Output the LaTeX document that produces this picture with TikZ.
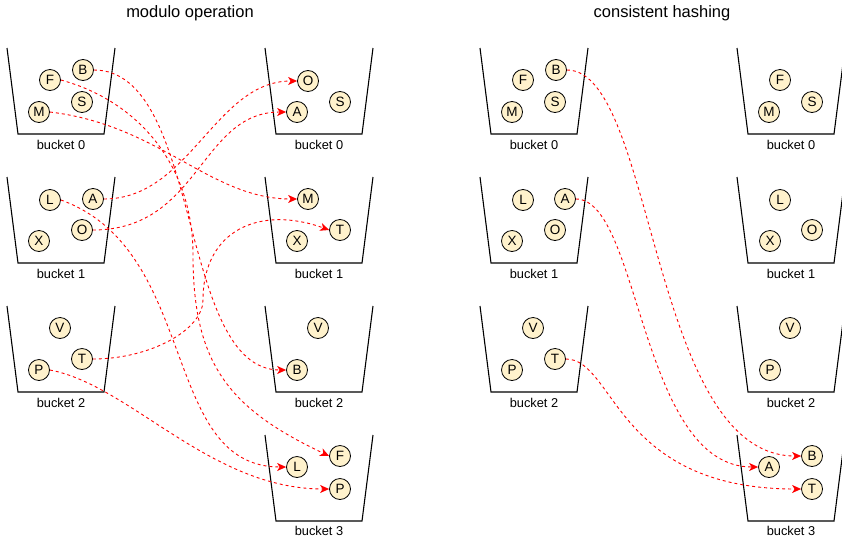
\documentclass[tikz,border=0pt]{standalone}
\usepackage{fontspec}
\setmainfont{Liberation Sans}
\usetikzlibrary{arrows.meta}
\definecolor{ballfill}{HTML}{FFF2CC}
\definecolor{edgered}{HTML}{FF0000}
\begin{document}
\begin{tikzpicture}[x=1pt,y=-1pt,
  ball/.style={circle,draw=black,fill=ballfill,line width=0.8pt,minimum size=21pt,inner sep=0pt,font=\fontsize{13.5}{15}\selectfont},
  blabel/.style={font=\fontsize{12.8}{14}\selectfont,inner sep=0pt},
  ttl/.style={font=\fontsize{16.5}{19}\selectfont,inner sep=0pt},
  move/.style={draw=edgered,line width=0.9pt,dash pattern=on 3pt off 3pt,-{Stealth[length=9pt,width=8pt,inset=2.5pt]}},
  bucket/.pic={\draw[line width=1.1pt] (0,0) -- (11,86) -- (97,86) -- (108,0);}
]
\clip (0,0) rectangle (842,541);
\useasboundingbox (0,0) rectangle (842,541);

% titles
\node[ttl] (t1) at (190,13) {modulo operation};
\node[ttl] (t2) at (662,13) {consistent hashing};

% buckets
\foreach \x in {7, 480}{
  \foreach \y in {48, 177, 306}{
    \pic at (\x,\y) {bucket};
  }
}
\foreach \x in {265, 737}{
  \foreach \y in {48, 177, 306, 435}{
    \pic at (\x,\y) {bucket};
  }
}
% bucket labels
\node[blabel] (ml0) at (61,145) {bucket 0};
\node[blabel] (ml1) at (61,274) {bucket 1};
\node[blabel] (ml2) at (61,403) {bucket 2};
\node[blabel] (mr0) at (319,145) {bucket 0};
\node[blabel] (mr1) at (319,274) {bucket 1};
\node[blabel] (mr2) at (319,403) {bucket 2};
\node[blabel] (mr3) at (319,531) {bucket 3};
\node[blabel] (cl0) at (534,145) {bucket 0};
\node[blabel] (cl1) at (534,274) {bucket 1};
\node[blabel] (cl2) at (534,403) {bucket 2};
\node[blabel] (cr0) at (791,145) {bucket 0};
\node[blabel] (cr1) at (791,274) {bucket 1};
\node[blabel] (cr2) at (791,403) {bucket 2};
\node[blabel] (cr3) at (791,531) {bucket 3};

% modulo left
\node[ball] (mlF) at (50,80) {F};
\node[ball] (mlB) at (83,70) {B};
\node[ball] (mlS) at (82,102) {S};
\node[ball] (mlM) at (39,112) {M};
\node[ball] (mlL) at (50,200) {L};
\node[ball] (mlA) at (93,199) {A};
\node[ball] (mlO) at (82,230) {O};
\node[ball] (mlX) at (39,241) {X};
\node[ball] (mlV) at (60,328) {V};
\node[ball] (mlT) at (82,359) {T};
\node[ball] (mlP) at (39,370) {P};
% modulo right
\node[ball] (mrO) at (308,81) {O};
\node[ball] (mrA) at (297,112) {A};
\node[ball] (mrS) at (340,102) {S};
\node[ball] (mrM) at (308,199) {M};
\node[ball] (mrT) at (340,230) {T};
\node[ball] (mrX) at (297,241) {X};
\node[ball] (mrV) at (318,328) {V};
\node[ball] (mrB) at (297,370) {B};
\node[ball] (mrF) at (340,456) {F};
\node[ball] (mrL) at (297,467) {L};
\node[ball] (mrP) at (340,489) {P};
% consistent left
\node[ball] (clF) at (523,80) {F};
\node[ball] (clB) at (556,70) {B};
\node[ball] (clS) at (555,102) {S};
\node[ball] (clM) at (512,112) {M};
\node[ball] (clL) at (523,200) {L};
\node[ball] (clA) at (565,199) {A};
\node[ball] (clO) at (555,230) {O};
\node[ball] (clX) at (512,241) {X};
\node[ball] (clV) at (533,328) {V};
\node[ball] (clT) at (555,359) {T};
\node[ball] (clP) at (512,370) {P};
% consistent right
\node[ball] (crF) at (780,80) {F};
\node[ball] (crM) at (769,112) {M};
\node[ball] (crS) at (812,102) {S};
\node[ball] (crL) at (780,200) {L};
\node[ball] (crX) at (770,241) {X};
\node[ball] (crO) at (812,230) {O};
\node[ball] (crV) at (790,328) {V};
\node[ball] (crP) at (770,370) {P};
\node[ball] (crB) at (812,456) {B};
\node[ball] (crA) at (769,467) {A};
\node[ball] (crT) at (812,489) {T};

% modulo moves
\draw[move] (mlB.east) .. controls (203,70) and (177,370) .. (mrB.west);
\draw[move] (mlF.east) .. controls (138,101) and (193,165) .. (193,255) .. controls (193,365) and (230,409) .. (mrF.west);
\draw[move] (mlM.east) .. controls (160,125) and (210,199) .. (mrM.west);
\draw[move] (mlA.east) .. controls (190,199) and (215,81) .. (mrO.west);
\draw[move] (mlO.east) .. controls (200,230) and (200,112) .. (mrA.west);
\draw[move] (mlL.east) .. controls (200,250) and (160,467) .. (mrL.west);
\draw[move] (mlT.east) .. controls (150,359) and (203,330) .. (203,300) .. controls (203,230) and (260,205) .. (mrT.west);
\draw[move] (mlP.east) .. controls (130,385) and (210,489) .. (mrP.west);

% consistent hashing moves
\draw[move] (clB.east) .. controls (655,70) and (650,456) .. (crB.west);
\draw[move] (clA.east) .. controls (640,199) and (640,467) .. (crA.west);
\draw[move] (clT.east) .. controls (615,359) and (615,489) .. (crT.west);
\end{tikzpicture}
\end{document}
